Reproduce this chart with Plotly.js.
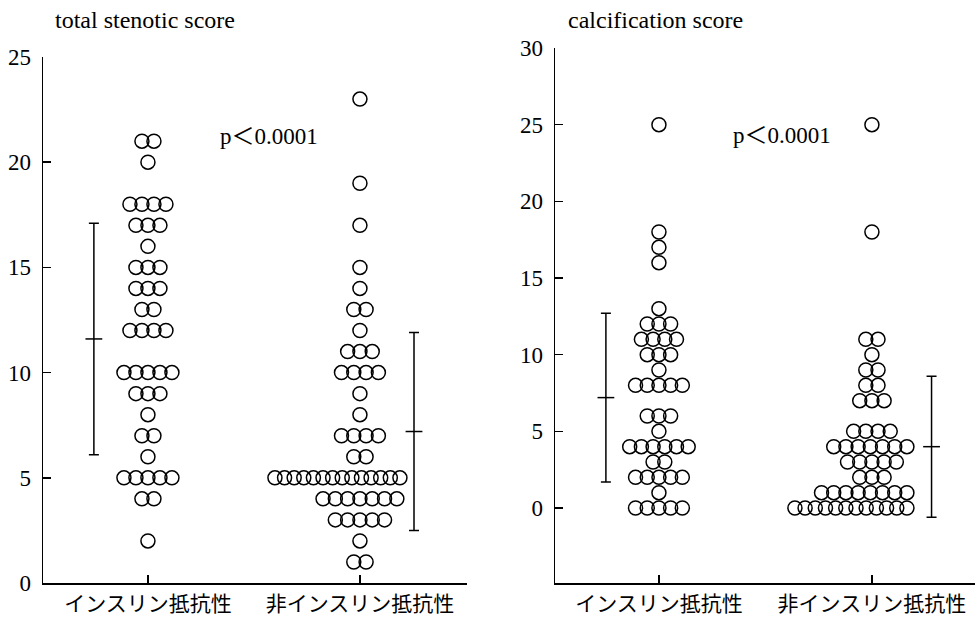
<!DOCTYPE html>
<html>
<head>
<meta charset="utf-8">
<script src="https://cdn.plot.ly/plotly-3.0.1.min.js"></script>
<style>
  html, body { margin: 0; padding: 0; background: #fff; }
  #chart { width: 975px; height: 618px; }
</style>
</head>
<body>
<div id="chart"></div>
<script>
// Group names shown under each panel
const groupLabels = ['インスリン抵抗性', '非インスリン抵抗性'];

// Total stenotic score, one entry per patient
const stenoticIR = [21,21,20,18,18,18,18,17,17,17,16,15,15,15,14,14,14,13,13,12,12,12,12,
  10,10,10,10,10,9,9,9,8,7,7,6,5,5,5,5,5,4,4,2];
const stenoticNonIR = [23,19,17,15,14,13,13,12,11,11,11,10,10,10,10,9,8,7,7,7,7,6,6,
  5,5,5,5,5,5,5,5,5,5,5,5,5,5,4,4,4,4,4,4,4,3,3,3,3,3,2,1,1];

// Calcification score, one entry per patient
const calcIR = [25,18,17,16,13,12,12,12,11,11,11,11,10,10,10,9,8,8,8,8,8,6,6,6,5,
  4,4,4,4,4,4,3,3,2,2,2,2,2,1,0,0,0,0,0];
const calcNonIR = [25,18,11,11,10,9,9,8,8,7,7,7,5,5,5,5,4,4,4,4,4,4,4,3,3,3,3,3,2,2,2,
  1,1,1,1,1,1,1,1,0,0,0,0,0,0,0,0,0,0,0,0];

// Mean ± SD per group
const stenoticMean = [11.6, 7.2];
const stenoticSD = [5.5, 4.7];
const calcMean = [7.2, 4.0];
const calcSD = [5.5, 4.6];

const pValueText = 'p＜0.0001';
const leftTitle = 'total stenotic score';
const rightTitle = 'calcification score';

// ---- geometry ----
const W = 975, H = 618;
const leftDom = [43 / W, 467 / W], rightDom = [555 / W, 1];
const leftXRange = [-0.495, 1.505], rightXRange = [-0.488, 1.484];
const leftYRange = [0, 25], rightYRange = [-4.89, 30];
const leftYDom = [35 / H, 561 / H], rightYDom = [35 / H, 570 / H];

function pxPerUnit(dom, range) {
  return (dom[1] - dom[0]) * W / (range[1] - range[0]);
}

// Lay equal values side by side in a row, centred on the group;
// long rows are squeezed and pushed left so they clear the SD bar.
function swarm(values, center, ppu, opt) {
  const rows = new Map();
  values.forEach(v => rows.set(v, (rows.get(v) || 0) + 1));
  const xs = [], ys = [];
  rows.forEach((n, v) => {
    let s = opt.step;
    if (n > 1 && (n - 1) * s > opt.maxSpan) s = opt.maxSpan / (n - 1);
    const half = (n - 1) / 2 * s;
    const shift = half > opt.maxRight ? half - opt.maxRight : 0;
    for (let i = 0; i < n; i++) {
      xs.push(center + ((i - (n - 1) / 2) * s - shift) / ppu);
      ys.push(v);
    }
  });
  return { xs, ys };
}

const ppuL = pxPerUnit(leftDom, leftXRange);
const ppuR = pxPerUnit(rightDom, rightXRange);

const dotMarker = {
  symbol: 'circle', size: 14, color: 'rgba(0,0,0,0)',
  line: { color: '#000', width: 1.5 }
};

function dotTrace(values, center, ppu, opt, xa, ya) {
  const p = swarm(values, center, ppu, opt);
  return { type: 'scatter', mode: 'markers', x: p.xs, y: p.ys, xaxis: xa, yaxis: ya,
    marker: dotMarker, hoverinfo: 'y', showlegend: false, cliponaxis: false };
}

function sdTrace(xpos, mean, sd, xa, ya) {
  return { type: 'scatter', mode: 'markers', x: xpos, y: mean, xaxis: xa, yaxis: ya,
    marker: { symbol: 'line-ew', size: 12, color: '#000', line: { color: '#000', width: 1.5 } },
    error_y: { type: 'data', array: sd, visible: true, color: '#000', thickness: 1.5, width: 5 },
    showlegend: false, hoverinfo: 'y', cliponaxis: false };
}

const data = [
  dotTrace(stenoticIR, 0, ppuL, { step: 12, maxSpan: 200, maxRight: 200 }, 'x', 'y'),
  dotTrace(stenoticNonIR, 1, ppuL, { step: 12.3, maxSpan: 125, maxRight: 40 }, 'x', 'y'),
  sdTrace([-0.255, 1.255], stenoticMean, stenoticSD, 'x', 'y'),
  dotTrace(calcIR, 0, ppuR, { step: 11.7, maxSpan: 200, maxRight: 200 }, 'x2', 'y2'),
  dotTrace(calcNonIR, 1, ppuR, { step: 12.2, maxSpan: 112, maxRight: 35 }, 'x2', 'y2'),
  sdTrace([-0.249, 1.28], calcMean, calcSD, 'x2', 'y2')
];

const serif = 'Liberation Serif, Noto Sans CJK JP, serif';
const numFont = { family: serif, size: 23, color: '#000' };
const titleFont = { family: serif, size: 24, color: '#000' };
const catFont = { family: 'Noto Sans CJK JP, sans-serif', size: 21, color: '#000' };

function xAxis(dom, range, anchor) {
  return {
    domain: dom, range: range, anchor: anchor, fixedrange: true,
    tickmode: 'array', tickvals: [0, 1], ticktext: groupLabels,
    ticks: 'inside', ticklen: 8, tickwidth: 1.5, tickcolor: '#000',
    showline: true, linecolor: '#000', linewidth: 1.5,
    showgrid: false, zeroline: false, tickfont: catFont,
    ticklabelstandoff: 1, automargin: false
  };
}
function yAxis(dom, range, anchor, vals) {
  return {
    domain: dom, range: range, anchor: anchor, fixedrange: true,
    tickmode: 'array', tickvals: vals,
    ticks: 'inside', ticklen: 8, tickwidth: 1.5, tickcolor: '#000',
    showline: true, linecolor: '#000', linewidth: 1.5,
    showgrid: false, zeroline: false, tickfont: numFont,
    ticklabelstandoff: 6, automargin: false
  };
}

const layout = {
  width: W, height: H,
  margin: { l: 0, r: 0, t: 0, b: 0 },
  paper_bgcolor: '#fff', plot_bgcolor: '#fff',
  showlegend: false,
  xaxis: xAxis(leftDom, leftXRange, 'y'),
  yaxis: yAxis(leftYDom, leftYRange, 'x', [0, 5, 10, 15, 20, 25]),
  xaxis2: xAxis(rightDom, rightXRange, 'y2'),
  yaxis2: yAxis(rightYDom, rightYRange, 'x2', [0, 5, 10, 15, 20, 25, 30]),
  annotations: [
    { text: leftTitle, xref: 'paper', yref: 'paper', x: 53 / W, y: (H - 20) / H,
      xanchor: 'left', yanchor: 'middle', showarrow: false, font: titleFont },
    { text: rightTitle, xref: 'paper', yref: 'paper', x: 566 / W, y: (H - 20) / H,
      xanchor: 'left', yanchor: 'middle', showarrow: false, font: titleFont },
    { text: pValueText, xref: 'paper', yref: 'paper', x: 218 / W, y: (H - 137) / H,
      xanchor: 'left', yanchor: 'middle', showarrow: false, font: numFont },
    { text: pValueText, xref: 'paper', yref: 'paper', x: 731 / W, y: (H - 135) / H,
      xanchor: 'left', yanchor: 'middle', showarrow: false, font: numFont }
  ]
};

Plotly.newPlot('chart', data, layout, { staticPlot: true, displayModeBar: false });
</script>
</body>
</html>
